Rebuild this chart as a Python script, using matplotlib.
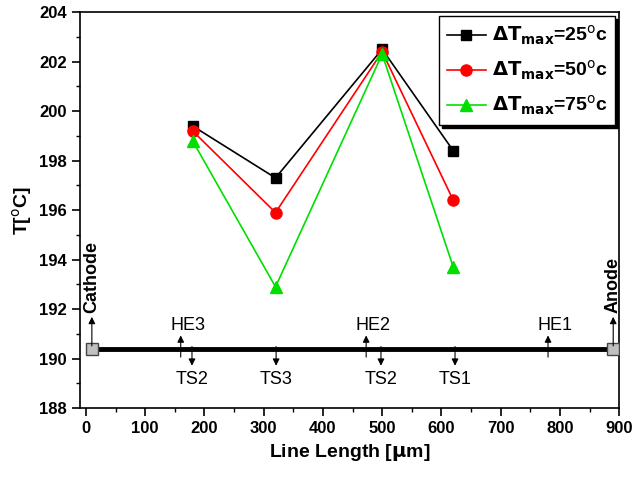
import matplotlib.pyplot as plt
from matplotlib.ticker import MultipleLocator, AutoMinorLocator

plt.rcParams["font.family"] = ["Liberation Sans", "DejaVu Sans"]

positions = [180, 320, 500, 620]
t_25 = [199.4, 197.3, 202.5, 198.4]
t_50 = [199.2, 195.9, 202.4, 196.4]
t_75 = [198.8, 192.9, 202.3, 193.7]

line_y = 190.4
electrodes = [10, 890]
electrode_names = ["Cathode", "Anode"]
he_pos = [160, 473, 780]
he_names = ["HE3", "HE2", "HE1"]
ts_pos = [179, 321, 498, 623]
ts_names = ["TS2", "TS3", "TS2", "TS1"]

fig = plt.figure(figsize=(6.35, 4.83), dpi=100)
ax = fig.add_axes([0.126, 0.155, 0.849, 0.82])

ax.plot(positions, t_25, "-s", color="black", ms=7, lw=1.2, label=r"$\mathbf{\Delta T_{max}}$=25$^{\mathrm{o}}$c")
ax.plot(positions, t_50, "-o", color="red", ms=8, lw=1.2, label=r"$\mathbf{\Delta T_{max}}$=50$^{\mathrm{o}}$c")
ax.plot(positions, t_75, "-^", color="#00e000", ms=8, lw=1.2, label=r"$\mathbf{\Delta T_{max}}$=75$^{\mathrm{o}}$c")

# conductor line with electrodes
ax.plot(electrodes, [line_y, line_y], color="black", lw=3.5, zorder=2)
ax.plot(electrodes, [line_y, line_y], "s", color="#c0c0c0", mec="#444444", ms=8, zorder=3)

arrow = dict(arrowstyle="-|>", color="black", lw=0.8, mutation_scale=10)
for x, name in zip(electrodes, electrode_names):
    ax.annotate("", xy=(x, 191.8), xytext=(x, line_y), arrowprops=arrow)
    ax.text(x, 191.85, name, rotation=90, ha="center", va="bottom",
            fontsize=13, fontweight="bold")
for x, name in zip(he_pos, he_names):
    ax.annotate("", xy=(x, 191.05), xytext=(x, 189.95), arrowprops=arrow)
    ax.text(x + 12, 191.0, name, ha="center", va="bottom", fontsize=13)
for x, name in zip(ts_pos, ts_names):
    ax.annotate("", xy=(x, 189.6), xytext=(x, 190.6), arrowprops=arrow)
    ax.text(x, 189.5, name, ha="center", va="top", fontsize=13)

ax.set_xlim(-10, 900)
ax.set_ylim(188, 204)
ax.xaxis.set_major_locator(MultipleLocator(100))
ax.xaxis.set_minor_locator(AutoMinorLocator(2))
ax.yaxis.set_major_locator(MultipleLocator(2))
ax.yaxis.set_minor_locator(AutoMinorLocator(2))
ax.tick_params(which="major", direction="out", length=6, width=1.2, labelsize=12)
ax.tick_params(which="minor", direction="out", length=3, width=1)
for lab in ax.get_xticklabels() + ax.get_yticklabels():
    lab.set_fontweight("bold")
for s in ax.spines.values():
    s.set_linewidth(1.2)

ax.set_xlabel(r"Line Length [$\mathbf{\mu}$m]", fontsize=14, fontweight="bold")
ax.set_ylabel(r"T[$^{\mathrm{o}}$C]", fontsize=14, fontweight="bold")

leg = ax.legend(loc="upper right", prop={"weight": "bold", "size": 14},
                fancybox=False, shadow={"color": "black", "alpha": 1.0},
                edgecolor="black", borderpad=0.4,
                handlelength=2.0, handletextpad=0.3, labelspacing=0.6,
                borderaxespad=0.2)
leg.get_frame().set_linewidth(1)

fig.savefig("out.png", dpi=100)
